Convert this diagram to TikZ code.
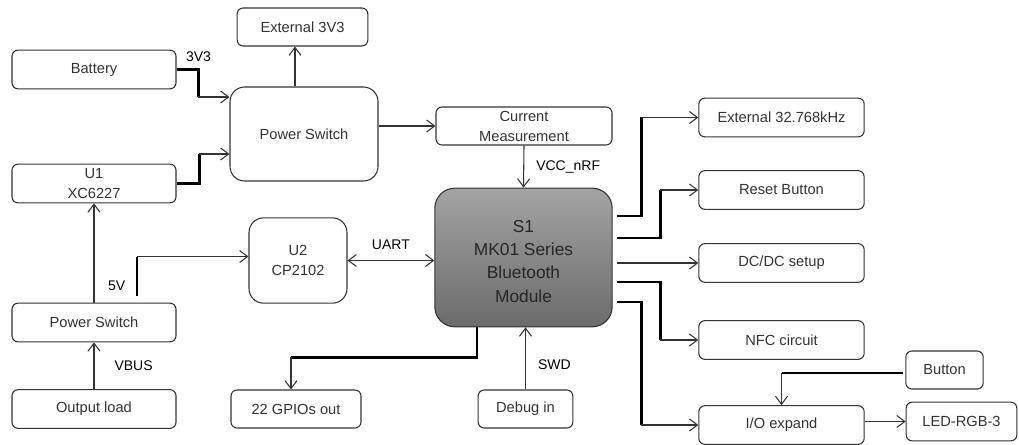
\documentclass[tikz,border=0pt]{standalone}
\usepackage{fontspec}
\setmainfont{Liberation Sans}
\usetikzlibrary{arrows.meta,calc,positioning}
\tikzset{x=0.75pt, y=-0.75pt}
\tikzset{>={Straight Barb[length=6pt,width=9pt]},
  blk/.style={draw=black!80, line width=0.8pt, rounded corners=4.5pt, fill=white, align=center,
    inner sep=1pt, text=black!80, font=\fontsize{11}{15}\selectfont},
  lblk/.style={blk, minimum width=123pt, minimum height=29pt},
  rblk/.style={blk, minimum width=124pt, minimum height=29pt},
  wire/.style={draw=black!80, line width=0.8pt, ->},
  bus/.style={draw=black, line width=1.8pt},
  sig/.style={font=\fontsize{10.5}{12}\selectfont, text=black, inner sep=0pt}}

\begin{document}
\begin{tikzpicture}
\useasboundingbox (0,0) rectangle (1019,445);
% left column
\node[lblk] (battery) at (94,69.5) {Battery};
\node[lblk] (u1) at (94,183.5) {U1\\XC6227};
\node[lblk] (pswB) at (94,322.5) {Power Switch};
\node[lblk] (load) at (94,409) {Output load};
% middle
\node[blk, minimum width=98pt, minimum height=28.5pt] (ext3v3) at (302.5,27) {External 3V3};
\node[blk, rounded corners=11pt, minimum width=111pt, minimum height=70.5pt] (pswA) at (304,134) {Power Switch};
\node[blk, minimum width=132pt, minimum height=28.5pt] (curr) at (524,126) {Current\\Measurement};
\node[blk, rounded corners=11pt, minimum width=73.5pt, minimum height=64pt] (u2) at (298,260.5) {U2\\CP2102};
\node[blk, minimum width=97.5pt, minimum height=28.5pt] (gpio) at (296,409) {22 GPIOs out};
\node[blk, minimum width=71pt, minimum height=28.5pt] (debug) at (525.5,409) {Debug in};
\node[draw=black!80, line width=0.8pt, rounded corners=15pt, top color=black!36, bottom color=black!58,
  minimum width=133pt, minimum height=104pt, text=black!85,
  font=\fontsize{13}{17.3}\selectfont] (s1) at (523.5,257.5)
  {\raisebox{-4pt}[\height][\depth]{\begin{tabular}{@{}c@{}}S1\\MK01 Series\\Bluetooth\\Module\end{tabular}}};
% right column
\foreach \boxname/\ypos/\txt in {ext32/117.5/External 32.768kHz, reset/190/Reset Button,
  dcdc/263/{DC/DC setup}, nfc/340/NFC circuit, io/425/{I/O expand}}
  \node[rblk] (\boxname) at (781.5,\ypos) {\txt};
\node[blk, minimum width=58pt, minimum height=28.5pt] (button) at (944.5,370) {Button};
\node[blk, minimum width=83pt, minimum height=29pt] (led) at (961.5,421.5) {LED-RGB-3};

% power side
\draw[bus] (battery.east) -| ($(pswA.west)+(-31,-37)$) coordinate (bat1)
  node[sig, pos=0.5, above=5pt] {3V3};
\draw[wire] (bat1) -- (bat1 -| pswA.west);
\draw[bus] (u1.east) -| ($(pswA.west)+(-30,20)$) coordinate (ldo1);
\draw[wire] (ldo1) -- (ldo1 -| pswA.west);
\coordinate (psn) at ($(pswA.north)+(-9,0)$);
\draw[wire] (psn) -- (psn |- ext3v3.south);
\draw[wire] (pswA.east |- curr.west) -- (curr.west);
\draw[wire] (curr.south) -- (s1.north) node[sig, midway, right=9pt] {VCC\_nRF};
\draw[wire] (pswB.north) -- (u1.south);
\draw[wire] (load.north) -- (pswB.south) node[sig, midway, right=15pt] {VBUS};
\coordinate (v5) at (137,296);
\coordinate (v5top) at ($(v5 |- u2.west)+(0,-4)$);
\draw[bus] (v5) -- (v5top) node[sig, pos=0.25, left=8pt] {5V};
\draw[wire] (v5top) -- (v5top -| u2.west);
\draw[wire, <->] (u2.east) -- (u2.east -| s1.west) node[sig, midway, above=8pt] {UART};
% bottom
\coordinate (g0) at ($(s1.south)+(-46.5,0)$);
\coordinate (g1) at ($(gpio.north)+(-5,-32)$);
\draw[bus] (g0) |- (g1);
\draw[wire] (g1) -- (g1 |- gpio.north);
\draw[wire] (debug.north) -- (debug.north |- s1.south) node[sig, pos=0.4, right=9pt] {SWD};
% right side
\foreach \dst/\dy/\dx in {ext32/-41.5/-57, reset/-19.5/-38, nfc/24.5/-38, io/44.5/-57}{
  \coordinate (bend) at ($(\dst.west)+(\dx,0)$);
  \draw[bus] ($(s1.east)+(4,\dy)$) -| (bend);
  \draw[wire] (bend) -- (\dst.west);
}
\coordinate (s1r) at ($(s1.east)+(4,0)$);
\draw[wire] (s1r |- dcdc.west) -- (dcdc.west);
\coordinate (bt1) at (button.west -| io.north);
\draw[bus] ($(button.west)+(-2,3)$) -- ($(bt1)+(0,3)$) coordinate (bt2);
\draw[wire] (bt2) -- (io.north);
\draw[wire] (io.east |- led.west) -- (led.west);
\end{tikzpicture}
\end{document}
